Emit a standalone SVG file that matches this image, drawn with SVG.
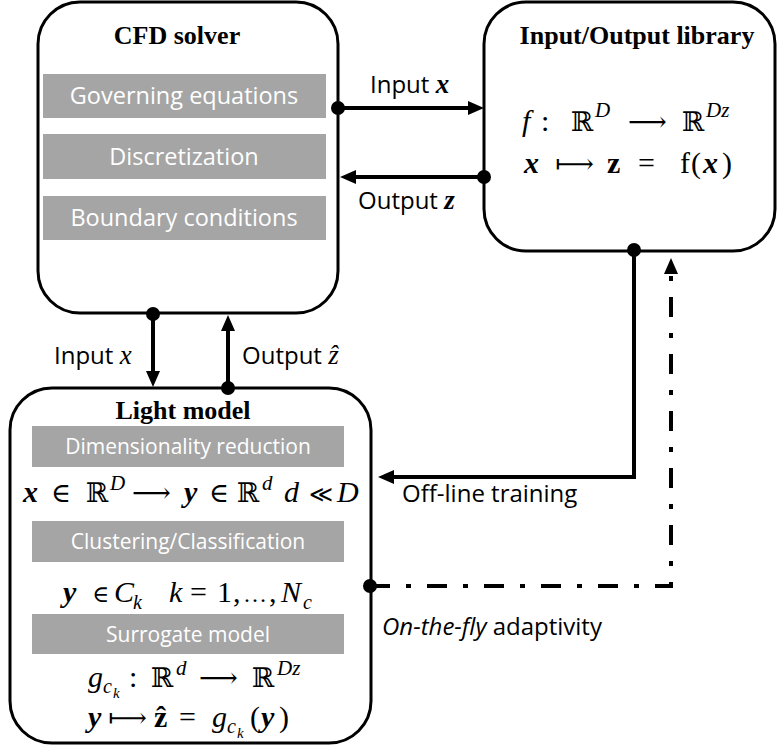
<svg xmlns="http://www.w3.org/2000/svg" width="777" height="747" viewBox="0 0 777 747">
<style>
.box{fill:#fff;stroke:#000;stroke-width:3}
.gray{fill:#A5A5A5}
.gt{font-family:"Open Sans","Liberation Sans",sans-serif;font-size:23.5px;fill:#fff;text-anchor:middle}
.gs{font-size:21px}
.title{font-family:"Liberation Serif","DejaVu Serif",serif;font-weight:bold;font-size:26px;text-anchor:middle;fill:#000}
.lbl{font-family:"Open Sans","Liberation Sans",sans-serif;font-size:24px;fill:#000}
.m{font-family:"Liberation Serif","DejaVu Serif",serif;font-size:30px;fill:#000}
.sup{font-size:21px;font-style:italic}
.sub{font-size:20px;font-style:italic}
.sub2{font-size:15px;font-style:italic}
.i{font-style:italic}
.b{font-weight:bold}
.ds{font-family:"DejaVu Serif","DejaVu Sans",serif;font-size:27px}
.sm{font-size:23px}
.c{fill:none;stroke:#000;stroke-width:4}
.dd{stroke-dasharray:20 16 5 16}
.dot{fill:#000}
</style>
<defs>
<marker id="ah" markerUnits="userSpaceOnUse" viewBox="0 0 16 14" markerWidth="16" markerHeight="14" refX="7" refY="7" orient="auto">
<path d="M0,0 L16,7 L0,14 z" fill="#000"/>
</marker>
</defs>

<g id="cfd-solver">
<rect class="box" x="38" y="2" width="300" height="311" rx="42"/>
<text class="title" x="177" y="44">CFD solver</text>
<rect class="gray" x="43" y="74" width="283" height="44"/>
<text class="gt" x="184" y="104">Governing equations</text>
<rect class="gray" x="43" y="134" width="283" height="45"/>
<text class="gt" x="184" y="165">Discretization</text>
<rect class="gray" x="43" y="196" width="283" height="44"/>
<text class="gt" x="184" y="226">Boundary conditions</text>
</g>

<g id="io-library">
<rect class="box" x="484" y="2" width="291" height="249" rx="42"/>
<text class="title" x="637" y="44">Input/Output library</text>
<text class="m" y="131"><tspan x="522" class="i">f</tspan><tspan x="541">:</tspan><tspan x="571" class="ds">ℝ</tspan><tspan x="595" y="117" class="sup">D</tspan><tspan x="628" y="131" class="ds">⟶</tspan><tspan x="682" class="ds">ℝ</tspan><tspan x="706" y="117" class="sup">Dz</tspan></text>
<text class="m" y="173"><tspan x="524" class="i b">x</tspan><tspan x="555" class="ds">⟼</tspan><tspan x="607" class="b">z</tspan><tspan x="638">=</tspan><tspan x="680">f</tspan><tspan x="691">(</tspan><tspan x="703" class="i b">x</tspan><tspan x="722">)</tspan></text>
</g>

<g id="light-model">
<rect class="box" x="10" y="388" width="361" height="355" rx="42"/>
<text class="title" x="183" y="419">Light model</text>
<rect class="gray" x="32" y="426" width="312" height="41"/>
<text class="gt gs" x="188" y="454">Dimensionality reduction</text>
<text class="m" y="502"><tspan x="23" class="i b">x</tspan><tspan x="51" class="ds">∈</tspan><tspan x="86" class="ds">ℝ</tspan><tspan x="110" y="490" class="sup">D</tspan><tspan x="132" y="502" class="ds">⟶</tspan><tspan x="184" class="i b">y</tspan><tspan x="209" class="ds">∈</tspan><tspan x="237" class="ds">ℝ</tspan><tspan x="262" y="490" class="sup">d</tspan><tspan x="284" y="502" class="i">d</tspan><tspan x="309" class="ds sm">≪</tspan><tspan x="337" class="i">D</tspan></text>
<rect class="gray" x="32" y="521" width="312" height="41"/>
<text class="gt gs" x="188" y="549">Clustering/Classification</text>
<text class="m" y="602"><tspan x="63" class="i b">y</tspan><tspan x="92" class="ds sm">∈</tspan><tspan x="114" class="i">C</tspan><tspan x="133" y="609" class="sub">k</tspan><tspan x="169" y="602" class="i">k</tspan><tspan x="190">=</tspan><tspan x="217">1</tspan><tspan x="233">,</tspan><tspan x="243" font-size="24">…</tspan><tspan x="269">,</tspan><tspan x="281" class="i">N</tspan><tspan x="303" y="609" class="sub">c</tspan></text>
<rect class="gray" x="32" y="614" width="312" height="40"/>
<text class="gt gs" x="188" y="642">Surrogate model</text>
<text class="m" y="687"><tspan x="88" class="i">g</tspan><tspan x="103" y="693" class="sub">c</tspan><tspan x="113" y="698" class="sub2">k</tspan><tspan x="129" y="687">:</tspan><tspan x="151" class="ds">ℝ</tspan><tspan x="176" y="675" class="sup">d</tspan><tspan x="199" y="687" class="ds">⟶</tspan><tspan x="252" class="ds">ℝ</tspan><tspan x="277" y="675" class="sup">Dz</tspan></text>
<text class="m" y="727"><tspan x="88" class="i b">y</tspan><tspan x="108" class="ds">⟼</tspan><tspan x="154" class="b">ẑ</tspan><tspan x="179">=</tspan><tspan x="212" class="i">g</tspan><tspan x="227" y="733" class="sub">c</tspan><tspan x="237" y="738" class="sub2">k</tspan><tspan x="250" y="727">(</tspan><tspan x="261" class="i b">y</tspan><tspan x="279">)</tspan></text>
</g>

<g id="connectors">
<line class="c" x1="338" y1="108" x2="475" y2="108" marker-end="url(#ah)"/>
<circle class="dot" cx="338" cy="108" r="7"/>
<text class="lbl" x="370" y="93">Input <tspan font-family="Liberation Serif,serif" font-style="italic" font-weight="bold" font-size="27">x</tspan></text>

<line class="c" x1="484" y1="177" x2="349" y2="177" marker-end="url(#ah)"/>
<circle class="dot" cx="484" cy="177" r="7"/>
<text class="lbl" x="358" y="209">Output <tspan font-family="Liberation Serif,serif" font-style="italic" font-weight="bold" font-size="27">z</tspan></text>

<polyline class="c" points="634,250 634,477 387,477" marker-end="url(#ah)"/>
<circle class="dot" cx="634" cy="250" r="7"/>
<text class="lbl" x="402" y="502">Off-line training</text>

<polyline class="c dd" points="370,586 671,586 671,267" marker-end="url(#ah)"/>
<circle class="dot" cx="370" cy="586" r="7"/>
<text class="lbl" x="382" y="635"><tspan font-style="italic">On-the-fly</tspan> adaptivity</text>

<line class="c" x1="153" y1="314" x2="153" y2="378" marker-end="url(#ah)"/>
<circle class="dot" cx="153" cy="314" r="7"/>
<text class="lbl" x="54" y="364">Input <tspan font-family="Liberation Serif,serif" font-style="italic" font-size="27">x</tspan></text>

<line class="c" x1="228" y1="388" x2="228" y2="324" marker-end="url(#ah)"/>
<circle class="dot" cx="228" cy="388" r="7"/>
<text class="lbl" x="242" y="364">Output <tspan font-family="Liberation Serif,serif" font-style="italic" font-size="27">ẑ</tspan></text>
</g>
</svg>
